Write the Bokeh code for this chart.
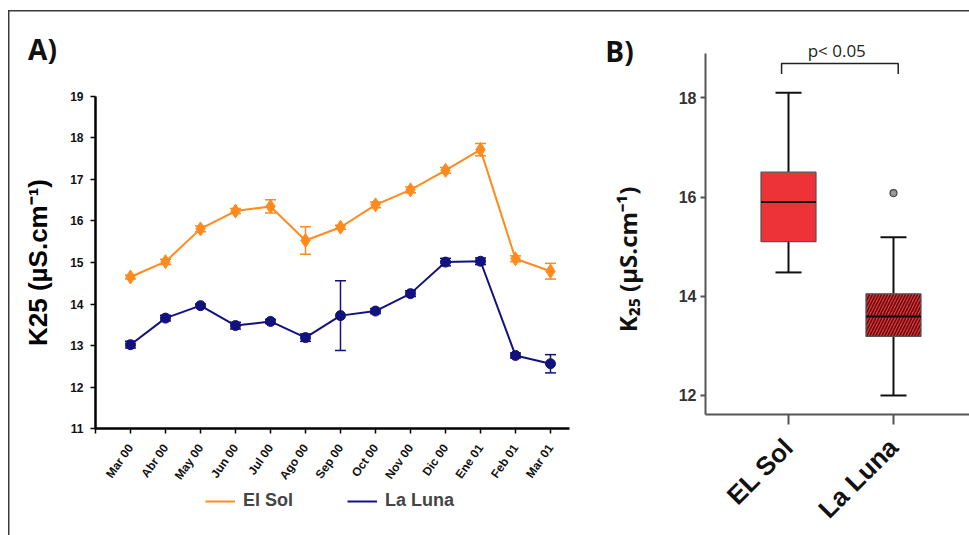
from math import pi
from bokeh.plotting import figure
from bokeh.layouts import row
from bokeh.models import (ColumnDataSource, Whisker, TeeHead, Legend, LegendItem,
                          FixedTicker, Label, BoxAnnotation)
from bokeh.embed import file_html
from bokeh.resources import INLINE

# ---------------- data ----------------
months = ["Mar 00", "Abr 00", "May 00", "Jun 00", "Jul 00", "Ago 00", "Sep 00",
          "Oct 00", "Nov 00", "Dic 00", "Ene 01", "Feb 01", "Mar 01"]
sol_mean = [14.65, 15.02, 15.81, 16.24, 16.35, 15.53, 15.85, 16.39, 16.75, 17.22, 17.72, 15.09, 14.79]
sol_err = [0.05, 0.06, 0.07, 0.06, 0.16, 0.33, 0.05, 0.07, 0.07, 0.07, 0.15, 0.07, 0.19]
luna_mean = [13.02, 13.66, 13.96, 13.48, 13.58, 13.19, 13.72, 13.83, 14.25, 15.01, 15.03, 12.76, 12.56]
luna_err = [0.08, 0.07, 0.04, 0.08, 0.05, 0.09, 0.84, 0.06, 0.07, 0.09, 0.08, 0.06, 0.22]
yticks_a = [11, 12, 13, 14, 15, 16, 17, 18, 19]

groups = ["EL Sol", "La Luna"]
box_lo = [14.48, 12.00]
box_q1 = [15.10, 13.19]
box_med = [15.90, 13.59]
box_q3 = [16.50, 14.05]
box_hi = [18.10, 15.19]
outlier_group = [1]
outlier_val = [16.08]
yticks_b = [12, 14, 16, 18]
p_text = "p< 0.05"

ORANGE = "#FF8A1E"
NAVY = "#12127E"
RED = "#EE3338"
FONT = "Liberation Sans"
FRAME = "#3a3a3a"


def white_box(p, left, right, bottom, top):
    p.add_layout(BoxAnnotation(left=left, right=right, top=top, bottom=bottom,
                               left_units="screen", right_units="screen",
                               top_units="screen", bottom_units="screen",
                               fill_color="white", fill_alpha=1, line_color=None, line_alpha=0,
                               level="overlay"))


# ---------------- panel A ----------------
idx = list(range(len(months)))
WA, HA = 588, 535
pA = figure(width=WA, height=HA, x_range=(-3.714, 13.086), y_range=(8.422, 21.313),
            output_backend="svg", toolbar_location=None, min_border=0)
pA.outline_line_color = None
pA.grid.visible = False
pA.border_fill_color = None
pA.background_fill_color = None

src_s = ColumnDataSource(dict(x=idx, y=sol_mean,
                              up=[m + e for m, e in zip(sol_mean, sol_err)],
                              lo=[m - e for m, e in zip(sol_mean, sol_err)]))
src_l = ColumnDataSource(dict(x=idx, y=luna_mean,
                              up=[m + e for m, e in zip(luna_mean, luna_err)],
                              lo=[m - e for m, e in zip(luna_mean, luna_err)]))

for src, col in ((src_s, ORANGE), (src_l, NAVY)):
    w = Whisker(source=src, base="x", upper="up", lower="lo", line_color=col, line_width=1.5,
                upper_head=TeeHead(size=11, line_color=col, line_width=1.5),
                lower_head=TeeHead(size=11, line_color=col, line_width=1.5))
    pA.add_layout(w)

l_sol = pA.line("x", "y", source=src_s, line_color=ORANGE, line_width=2)
pA.scatter("x", "y", source=src_s, marker="diamond", size=14, fill_color=ORANGE, line_color=ORANGE)
l_luna = pA.line("x", "y", source=src_l, line_color=NAVY, line_width=2)
pA.scatter("x", "y", source=src_l, marker="circle", size=10, fill_color=NAVY, line_color=NAVY)

xa = pA.xaxis[0]
xa.fixed_location = yticks_a[0]
xa.bounds = (-1, 12.55)
xa.ticker = FixedTicker(ticks=[-1] + idx)
ov = {i: m for i, m in zip(idx, months)}
ov[-1] = ""
xa.major_label_overrides = ov
xa.major_label_orientation = 0.96
xa.major_label_text_font = FONT
xa.major_label_text_font_style = "bold"
xa.major_label_text_font_size = "12px"
xa.major_label_text_color = "#111"
xa.major_label_standoff = 12
ya = pA.yaxis[0]
ya.fixed_location = -1
ya.bounds = (yticks_a[0], yticks_a[-1])
ya.ticker = FixedTicker(ticks=yticks_a)
ya.major_label_text_font = FONT
ya.major_label_text_font_style = "bold"
ya.major_label_text_font_size = "12px"
ya.major_label_text_color = "#111"
ya.major_label_standoff = 7
ya.axis_label = "K25 (µS.cm⁻¹)"
ya.axis_label_text_font = FONT
ya.axis_label_text_font_style = "bold"
ya.axis_label_text_font_size = "26px"
ya.axis_label_text_color = "#000"
ya.axis_label_standoff = 14
for ax in (xa, ya):
    ax.axis_line_width = 2.5
    ax.axis_line_color = "#000"
    ax.major_tick_line_width = 1.5
    ax.major_tick_out = 5
    ax.major_tick_in = 0
    ax.minor_tick_line_color = None

legend = Legend(items=[LegendItem(label="El Sol", renderers=[l_sol]),
                       LegendItem(label="La Luna", renderers=[l_luna])],
                orientation="horizontal", location=(205, 24),
                label_text_font=FONT, label_text_font_style="bold", label_text_font_size="18px",
                glyph_width=30, glyph_height=12, label_standoff=8, spacing=54,
                border_line_color=None, background_fill_alpha=0, padding=0, margin=0)
pA.add_layout(legend)

pA.add_layout(Label(x=42, y=HA - 48, x_units="screen", y_units="screen", text="A)",
                    text_font="Open Sans", text_font_style="bold", text_font_size="28px",
                    text_align="center", text_baseline="middle", text_color="#111"))
white_box(pA, WA - 5, WA, HA - 9.5, HA)

# ---------------- panel B ----------------
pos = [1, 2]
half_box = 0.262
half_cap = 0.124
WB, HB = 381, 535
pB = figure(width=WB, height=HB, x_range=(-0.905, 2.724), y_range=(9.178, 19.961),
            output_backend="svg", toolbar_location=None, min_border=0)
pB.outline_line_color = None
pB.grid.visible = False
pB.border_fill_color = None
pB.background_fill_color = None

pB.segment(x0=pos, y0=box_q3, x1=pos, y1=box_hi, line_color="#111", line_width=2)
pB.segment(x0=pos, y0=box_q1, x1=pos, y1=box_lo, line_color="#111", line_width=2)
pB.segment(x0=[p - half_cap for p in pos], y0=box_hi, x1=[p + half_cap for p in pos], y1=box_hi,
           line_color="#111", line_width=2)
pB.segment(x0=[p - half_cap for p in pos], y0=box_lo, x1=[p + half_cap for p in pos], y1=box_lo,
           line_color="#111", line_width=2)
pB.vbar(x=pos[:1], top=box_q3[:1], bottom=box_q1[:1], width=2 * half_box,
        fill_color=RED, line_color="#555", line_width=1.2)
pB.vbar(x=pos[1:], top=box_q3[1:], bottom=box_q1[1:], width=2 * half_box,
        fill_color=RED, line_color="#555", line_width=1.2,
        hatch_pattern="/", hatch_color="#5e0d10", hatch_scale=6, hatch_weight=1.6)
pB.segment(x0=[p - half_box for p in pos], y0=box_med, x1=[p + half_box for p in pos], y1=box_med,
           line_color="#111", line_width=2)
pB.scatter(x=[pos[g] for g in outlier_group], y=outlier_val, marker="circle", size=7,
           fill_color="#999", line_color="#444", line_width=1.2)

# significance bracket
br_left = pos[0] - 0.066
br_right = pos[1] + 0.045
br_top = 18.69
br_leg = 18.48
pB.line(x=[br_left, br_left, br_right, br_right], y=[br_leg, br_top, br_top, br_leg],
        line_color="#222", line_width=1.5)
pB.add_layout(Label(x=(br_left + br_right) / 2 - 0.03, y=18.95, text=p_text, text_font="Open Sans",
                    text_font_size="17px", text_align="center", text_baseline="middle",
                    text_color="#222"))

xb = pB.xaxis[0]
xb.fixed_location = 11.611
xb.bounds = (0.2095, 2.724)
xb.ticker = FixedTicker(ticks=pos)
xb.major_label_overrides = {p: g for p, g in zip(pos, groups)}
xb.major_label_orientation = pi / 4
xb.major_label_text_font = FONT
xb.major_label_text_font_style = "bold"
xb.major_label_text_font_size = "26px"
xb.major_label_text_color = "#111"
xb.major_label_standoff = 18
xb.major_tick_out = 10
yb = pB.yaxis[0]
yb.fixed_location = 0.2095
yb.bounds = (11.611, 18.893)
yb.ticker = FixedTicker(ticks=yticks_b)
yb.major_label_text_font = FONT
yb.major_label_text_font_style = "bold"
yb.major_label_text_font_size = "16px"
yb.major_label_text_color = "#333"
yb.major_label_standoff = 4
yb.major_tick_out = 5
for ax in (xb, yb):
    ax.axis_line_width = 2
    ax.axis_line_color = "#555"
    ax.major_tick_line_color = "#555"
    ax.major_tick_line_width = 2
    ax.major_tick_in = 0
    ax.minor_tick_line_color = None

pB.add_layout(Label(x=39, y=HB - 259, x_units="screen", y_units="screen", text="K₂₅ (µS.cm⁻¹)",
                    angle=pi / 2, text_font="Open Sans", text_font_style="bold",
                    text_font_size="24px", text_align="center", text_baseline="middle",
                    text_color="#111"))
pB.add_layout(Label(x=31, y=HB - 50, x_units="screen", y_units="screen", text="B)",
                    text_font="Open Sans", text_font_style="bold", text_font_size="28px",
                    text_align="center", text_baseline="middle", text_color="#111"))
white_box(pB, 0, 5, HB - 9.5, HB)

# outer frame lines (top and left) drawn as the page background behind the transparent canvases
frame_css = ("linear-gradient(%s,%s) 8px 10px / 1.5px 100%% no-repeat, "
             "linear-gradient(%s,%s) 8px 10px / 100%% 1.5px no-repeat, white") % ((FRAME,) * 4)
layout = row(pA, pB, styles={"background": frame_css})
open("out.html", "w").write(file_html(layout, INLINE))
